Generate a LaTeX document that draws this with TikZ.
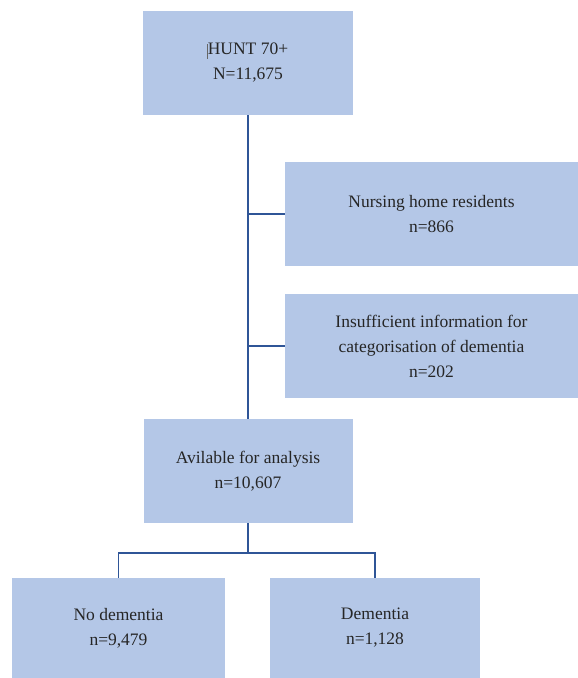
\documentclass[tikz,border=0pt]{standalone}
\usepackage{fontspec}
\setmainfont{Liberation Serif}
\definecolor{boxfill}{HTML}{B4C7E7}
\definecolor{linecol}{HTML}{2F5597}
\begin{document}
\begin{tikzpicture}[x=1pt,y=-1pt,
  flowbox/.style={fill=boxfill, draw=none, align=center, inner sep=0pt,
    font=\fontsize{17.5}{25}\selectfont, text=black!85},
  conn/.style={draw=linecol, line width=1.6pt}]
\useasboundingbox (0,0) rectangle (578,678);
\node[flowbox, minimum width=210, minimum height=104] (hunt) at (248,63) {HUNT 70+\\N=11,675};
\node[flowbox, minimum width=293, minimum height=104] (nurs) at (431.5,214) {Nursing home residents\\n=866};
\node[flowbox, minimum width=293, minimum height=104] (insuf) at (431.5,346) {Insufficient information for\\categorisation of dementia\\n=202};
\node[flowbox, minimum width=209, minimum height=104] (avail) at (248,471) {Avilable for analysis\\n=10,607};
\node[flowbox, minimum width=213, minimum height=100] (nodem) at (118.5,628) {No dementia\\n=9,479};
\node[flowbox, minimum width=210, minimum height=100] (dem) at (375,628) {Dementia\\n=1,128};
\draw[black!60, line width=0.6pt] (207.5,44) -- (207.5,59);
\draw[conn] (hunt.south) -- (avail.north);
\draw[conn] (nurs.west) -- (nurs.west -| hunt.south);
\draw[conn] (insuf.west) -- (insuf.west -| hunt.south);
\coordinate (split) at (248,553);
\draw[conn] (avail.south) -- (split);
\draw[conn] (nodem.north) -- (nodem.north |- split) -- (dem.north |- split) -- (dem.north);
\end{tikzpicture}
\end{document}
